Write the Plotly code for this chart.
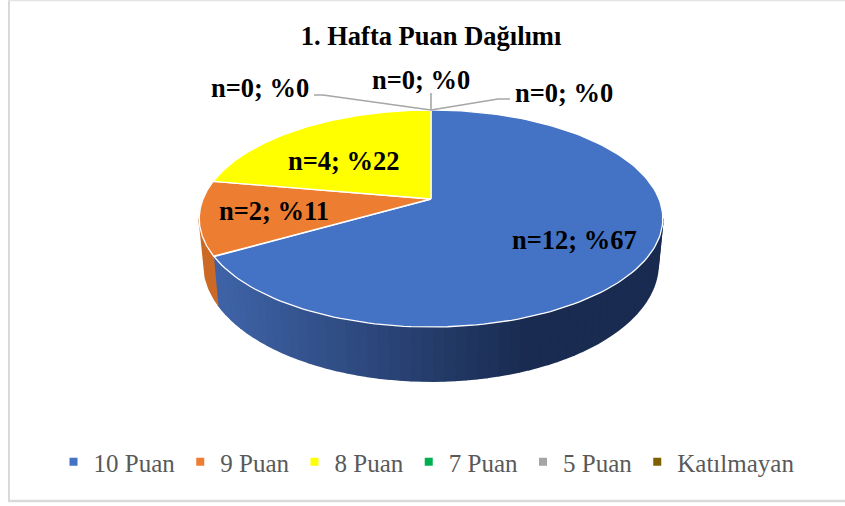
import numpy as np
import plotly.graph_objects as go

categories = ["10 Puan", "9 Puan", "8 Puan", "7 Puan", "5 Puan", "Katılmayan"]
counts = [12, 2, 4, 0, 0, 0]
percents = [67, 11, 22, 0, 0, 0]
colors = ["#4472C4", "#ED7D31", "#FFFF00", "#00B050", "#A5A5A5", "#7F6000"]
title = "1. Hafta Puan Dağılımı"

W, H = 845, 506
CX, CY, A, B, K = 431, 199, 228, 105, 0.18
SX, SY, DY = 0.98, 1.08, 43.8


def top(theta):
    t = np.radians(theta)
    X, Y = np.sin(t), np.cos(t)
    d = 1 + K * Y
    return CX + A * X / d, CY - B * Y / d


def bottom(theta):
    x, y = top(theta)
    return CX + (x - CX) * SX, CY + (y - CY) * SY + DY


def mix(c1, c2, f):
    return "rgb(%d,%d,%d)" % tuple(round(a + (b - a) * f) for a, b in zip(c1, c2))


fig = go.Figure()


def poly(xs, ys, fill, line=None, lw=0):
    fig.add_trace(go.Scatter(x=xs, y=ys, mode="lines", fill="toself", fillcolor=fill,
                             line=dict(color=line or fill, width=lw if line else 1.6),
                             showlegend=False, hoverinfo="skip"))


total = sum(counts)
sweeps = [c / total * 360 for c in counts]
starts = np.cumsum([0] + sweeps[:-1])
tangent_left = 360 - np.degrees(np.arccos(-K))
tangent_right = np.degrees(np.arccos(-K))

# side wall of the largest slice, shaded right to left
a0, a1 = tangent_right, starts[1]
n = 60
edges = np.linspace(a0, a1, n + 1)
for i in range(n):
    th = np.linspace(edges[i], edges[i + 1], 4)
    xt, yt = top(th)
    xb, yb = bottom(th)
    f = min(1, max(0, (xt.mean() - 225) / 300))
    poly(np.r_[xt, xb[::-1]], np.r_[yt, yb[::-1]], mix((62, 98, 165), (25, 43, 80), f))

# side wall of the second slice
th = np.linspace(starts[1], tangent_left, 20)
xt, yt = top(th)
xb, yb = bottom(th)
poly(np.r_[xt, xb[::-1]], np.r_[yt, yb[::-1]], "#CB6A26")

# top faces
for s, sw, c in zip(starts, sweeps, colors):
    if sw <= 0:
        continue
    th = np.linspace(s, s + sw, 160)
    x, y = top(th)
    poly(np.r_[CX, x, CX], np.r_[CY, y, CY], c, "#FFFFFF", 1.3)

# leader lines of the empty slices
leaders = [([431, 323, 314], [110, 95, 95]), ([431, 431], [110, 93]), ([431, 498, 510], [110, 99, 99])]
for lx, ly in leaders:
    fig.add_trace(go.Scatter(x=lx, y=ly, mode="lines", line=dict(color="#A6A6A6", width=1.6),
                             showlegend=False, hoverinfo="skip"))

# legend entries
for name, c in zip(categories, colors):
    fig.add_trace(go.Scatter(x=[None], y=[None], mode="markers", name=name,
                             marker=dict(symbol="square", size=8, color=c)))

serif = "Liberation Serif"
label_pos = [(574, 240), (274, 211), (344, 161), (260, 88), (421, 80), (564, 93)]
for c, p, (x, y) in zip(counts, percents, label_pos):
    fig.add_annotation(x=x, y=y, xref="x", yref="y", text=f"<b>n={c}; %{p}</b>", showarrow=False,
                       font=dict(family=serif, size=26.5, color="#000000"))

fig.update_layout(
    width=W, height=H, margin=dict(l=0, r=0, t=0, b=0),
    paper_bgcolor="white", plot_bgcolor="white",
    xaxis=dict(range=[0, W], visible=False, fixedrange=True),
    yaxis=dict(range=[H, 0], visible=False, fixedrange=True),
    title=dict(text=f"<b>{title}</b>", x=431 / W, y=1 - 36 / H, xanchor="center", yanchor="middle",
               font=dict(family=serif, size=26.5, color="#000000")),
    legend=dict(orientation="h", x=(0.5 * W + 4) / W, xanchor="center", y=1 - 462 / H, yanchor="middle",
                font=dict(family=serif, size=25, color="#595959"), bgcolor="rgba(0,0,0,0)"),
    shapes=[
        dict(type="line", xref="x", yref="y", x0=9, x1=9, y0=0, y1=501, line=dict(color="#D9D9D9", width=2)),
        dict(type="line", xref="x", yref="y", x0=8, x1=845, y0=501, y1=501, line=dict(color="#D9D9D9", width=2.5)),
        dict(type="line", xref="x", yref="y", x0=8, x1=845, y0=0.5, y1=0.5, line=dict(color="#E4E4E4", width=1.5)),
    ],
)
fig.write_html("out.html", config=dict(displayModeBar=False),
               post_script="document.body.style.margin='0';document.body.style.overflow='hidden';")
